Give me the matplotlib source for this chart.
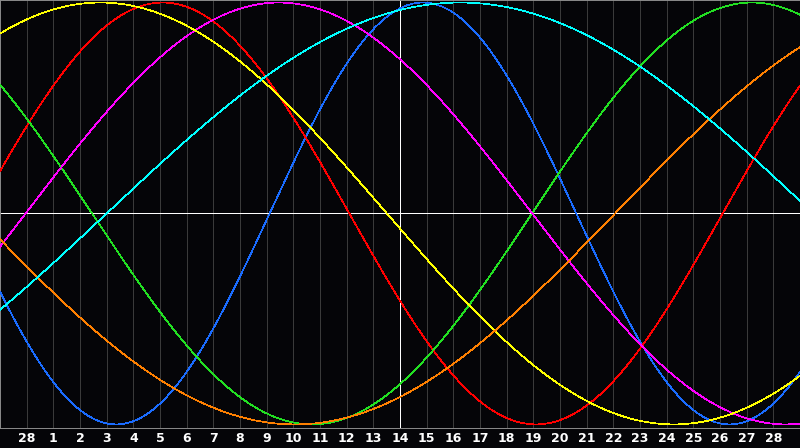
import numpy as np
import matplotlib
matplotlib.use("Agg")
import matplotlib.pyplot as plt

# cycle length (days) and the day offset of a peak, relative to today (white line)
periods = [23, 28, 33, 38, 43, 48, 53]
peak_day = [0.86, -8.9, 13.2, -4.54, -11.24, 20.06, 2.25]
colors = ["#1a6cff", "#ff0000", "#22e022", "#ff00ff", "#ffff00", "#ff8000", "#00ffff"]

day_offsets = list(range(-14, 15))
day_labels = ["28"] + [str(i) for i in range(1, 29)]

bg = "#050508"
fig = plt.figure(figsize=(8, 4.48), dpi=100, facecolor=bg)
ax = fig.add_axes([0, 20 / 448, 1, 428 / 448], facecolor=bg)

lw = 0.5
for d in day_offsets:
    if d == 0:
        continue
    ax.axvline(d, color="#3a3a3a", lw=lw, antialiased=False, zorder=1)
ax.axvline(0, color="white", lw=lw, antialiased=False, zorder=2)
ax.axhline(0, color="white", lw=lw, antialiased=False, zorder=2)

t = np.linspace(-15, 15, 1200)
for p, pk, c in zip(periods, peak_day, colors):
    ax.plot(t, np.cos(2 * np.pi * (t - pk) / p), color=c, lw=lw,
            antialiased=False, zorder=3)

ax.set_xlim(-15, 15)
ax.set_ylim(-1.017, 1.012)
ax.set_yticks([])
ax.set_xticks(day_offsets)
ax.set_xticklabels(day_labels, color="white", fontsize=9, fontweight="bold")
ax.tick_params(axis="x", length=0, pad=3)
for s in ax.spines.values():
    s.set_color("#8c8c8c")
    s.set_linewidth(0.7)

fig.savefig("out.png", dpi=100, facecolor=bg)
